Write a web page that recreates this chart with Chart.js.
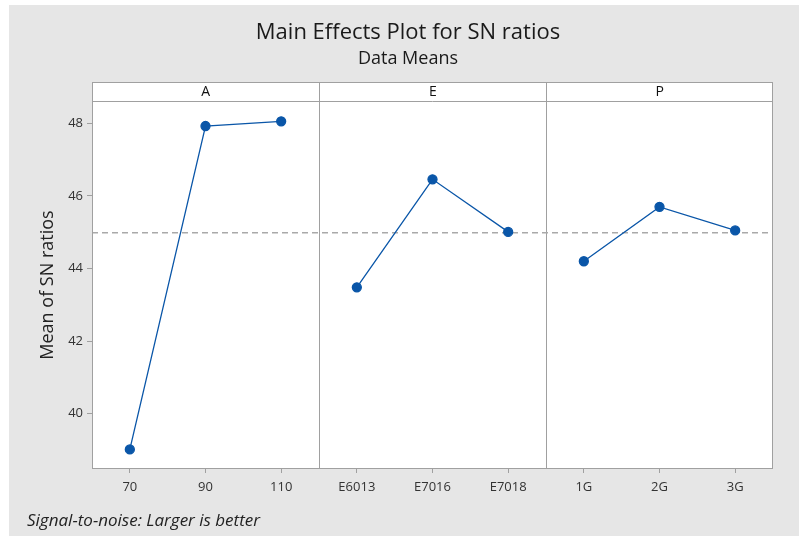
<!DOCTYPE html>
<html>
<head>
<meta charset="utf-8">
<script src="https://cdn.jsdelivr.net/npm/chart.js@4/dist/chart.umd.min.js"></script>
<style>
  html, body { margin: 0; padding: 0; background: #ffffff; }
  #wrap { width: 799px; height: 536px; position: relative; }
</style>
</head>
<body>
<div id="wrap"><canvas id="c" width="799" height="536"></canvas></div>
<script>
// ---- data ----
const factors = ['A', 'E', 'P'];
const levelsA = ['70', '90', '110'];
const levelsE = ['E6013', 'E7016', 'E7018'];
const levelsP = ['1G', '2G', '3G'];
const snA = [39.01, 47.93, 48.06];
const snE = [43.48, 46.46, 45.01];
const snP = [44.20, 45.70, 45.05];
const yTicks = [40, 42, 44, 46, 48];
const chartTitle = 'Main Effects Plot for SN ratios';
const chartSubtitle = 'Data Means';
const yAxisTitle = 'Mean of SN ratios';
const footerText = 'Signal-to-noise: Larger is better';

const levelGroups = [levelsA, levelsE, levelsP];
const valueGroups = [snA, snE, snP];
const allLabels = [].concat(...levelGroups);
const allValues = [].concat(...valueGroups);
const grandMean = allValues.reduce((a, b) => a + b, 0) / allValues.length;

const BLUE = '#0a56a8';
const FONT = '"Open Sans", "Noto Sans", sans-serif';

const datasets = levelGroups.map((lv, g) => ({
  label: factors[g],
  data: lv.map((l, i) => ({ x: l, y: valueGroups[g][i] })),
  borderColor: BLUE,
  backgroundColor: BLUE,
  borderWidth: 1.3,
  pointRadius: 4.5,
  pointHoverRadius: 4.5,
  pointBackgroundColor: BLUE,
  pointBorderColor: BLUE,
  tension: 0
}));

function boundaries(chart) {
  const { chartArea: a, scales } = chart;
  const b = [a.left];
  let idx = 0;
  for (let g = 0; g < levelGroups.length - 1; g++) {
    idx += levelGroups[g].length;
    b.push(Math.round((scales.x.getPixelForTick(idx - 1) + scales.x.getPixelForTick(idx)) / 2) + 0.5);
  }
  b.push(a.right);
  return b;
}

const panelPlugin = {
  id: 'panels',
  beforeDraw(chart) {
    const ctx = chart.ctx;
    ctx.save();
    ctx.fillStyle = '#e6e6e6';
    ctx.fillRect(9, 5, 790, 531);
    ctx.restore();
  },
  beforeDatasetsDraw(chart) {
    const { ctx, chartArea: a, scales } = chart;
    ctx.save();
    ctx.fillStyle = '#ffffff';
    ctx.fillRect(a.left, a.top, a.right - a.left, a.bottom - a.top);
    ctx.strokeStyle = '#a0a0a0';
    ctx.lineWidth = 1;
    const b = boundaries(chart);
    for (let i = 1; i < b.length - 1; i++) {
      ctx.beginPath();
      ctx.moveTo(b[i], a.top);
      ctx.lineTo(b[i], a.bottom);
      ctx.stroke();
    }
    const ym = scales.y.getPixelForValue(grandMean);
    ctx.strokeStyle = '#a9a9a9';
    ctx.lineWidth = 1.5;
    ctx.setLineDash([6, 4]);
    ctx.beginPath();
    ctx.moveTo(a.left, ym);
    ctx.lineTo(a.right, ym);
    ctx.stroke();
    ctx.restore();
  },
  afterDraw(chart) {
    const { ctx, chartArea: a } = chart;
    ctx.save();
    const hTop = a.top - 19;
    ctx.fillStyle = '#ffffff';
    ctx.fillRect(a.left, hTop, a.right - a.left, 19);
    ctx.strokeStyle = '#a0a0a0';
    ctx.lineWidth = 1;
    ctx.strokeRect(a.left + 0.5, hTop + 0.5, a.right - a.left - 1, a.bottom - hTop - 1);
    ctx.beginPath();
    ctx.moveTo(a.left, a.top + 0.5);
    ctx.lineTo(a.right, a.top + 0.5);
    ctx.stroke();
    const b = boundaries(chart);
    for (let i = 1; i < b.length - 1; i++) {
      ctx.beginPath();
      ctx.moveTo(b[i], hTop);
      ctx.lineTo(b[i], a.top);
      ctx.stroke();
    }
    ctx.fillStyle = '#111111';
    ctx.font = '14px ' + FONT;
    ctx.textAlign = 'center';
    ctx.textBaseline = 'middle';
    factors.forEach((f, g) => {
      ctx.fillText(f, (b[g] + b[g + 1]) / 2, hTop + 10);
    });
    ctx.fillStyle = '#1a1a1a';
    ctx.font = '22px ' + FONT;
    ctx.fillText(chartTitle, 408, 33);
    ctx.font = '18px ' + FONT;
    ctx.fillText(chartSubtitle, 408, 59);
    ctx.textAlign = 'left';
    ctx.font = 'italic 17px ' + FONT;
    ctx.fillStyle = '#222222';
    ctx.fillText(footerText, 27, 521);
    ctx.restore();
  }
};

new Chart(document.getElementById('c'), {
  type: 'line',
  data: { labels: allLabels, datasets },
  options: {
    responsive: false,
    animation: false,
    spanGaps: false,
    layout: { padding: { top: 101, right: 26, left: 0, bottom: 0 } },
    plugins: { legend: { display: false }, title: { display: false }, tooltip: { enabled: false } },
    scales: {
      x: {
        type: 'category',
        offset: true,
        grid: { display: true, drawOnChartArea: false, drawTicks: true, tickLength: 4, color: '#a0a0a0', offset: false },
        border: { display: false },
        ticks: { color: '#333333', font: { family: FONT, size: 13 }, padding: 6, maxRotation: 0, autoSkip: false },
        afterFit(s) { s.height = 67; }
      },
      y: {
        min: 38.47,
        max: 48.62,
        grid: { display: true, drawOnChartArea: false, drawTicks: true, tickLength: 5, color: '#a0a0a0' },
        border: { display: false },
        ticks: { color: '#333333', font: { family: FONT, size: 13 }, padding: 4 },
        afterBuildTicks(s) { s.ticks = yTicks.map(v => ({ value: v })); },
        title: { display: true, text: yAxisTitle, color: '#222222', font: { family: FONT, size: 18 }, padding: { top: 37, bottom: 0 } },
        afterFit(s) { s.width = 92; }
      }
    }
  },
  plugins: [panelPlugin]
});
</script>
</body>
</html>
